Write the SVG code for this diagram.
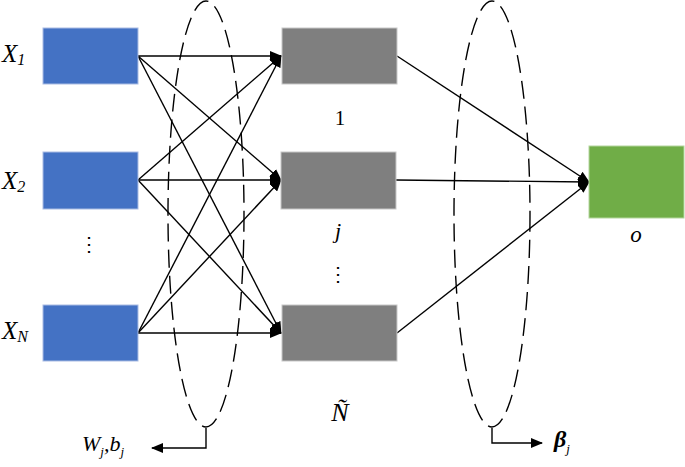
<svg xmlns="http://www.w3.org/2000/svg" width="685" height="467" viewBox="0 0 685 467">
<style>
.in{fill:#4472C4;stroke:#A9BCE3;stroke-width:1}
.hid{fill:#7F7F7F;stroke:#C8C8C8;stroke-width:1}
.out{fill:#70AD47;stroke:#B4D69E;stroke-width:1}
.c{stroke:#000;stroke-width:1.4;fill:none}
.dash{stroke:#000;stroke-width:1.4;fill:none;stroke-dasharray:18 8}
.t{font-family:'Liberation Serif','Times New Roman','DejaVu Serif',serif;fill:#000}
.it{font-style:italic}
</style>
<defs>
<marker id="ah" markerUnits="userSpaceOnUse" markerWidth="12" markerHeight="10" refX="11" refY="5" orient="auto">
<path d="M0,0 L12,5 L0,10 Z" fill="#000"/>
</marker>
</defs>
<g id="ellipses">
<ellipse class="dash" cx="206" cy="214" rx="38" ry="213"/>
<ellipse class="dash" cx="492" cy="214" rx="38" ry="213"/>
</g>
<g id="connectors">
<line class="c" x1="138" y1="56" x2="281" y2="56" marker-end="url(#ah)"/>
<line class="c" x1="138" y1="56" x2="281" y2="180" marker-end="url(#ah)"/>
<line class="c" x1="138" y1="56" x2="281" y2="333" marker-end="url(#ah)"/>
<line class="c" x1="138" y1="180" x2="281" y2="56" marker-end="url(#ah)"/>
<line class="c" x1="138" y1="180" x2="281" y2="180" marker-end="url(#ah)"/>
<line class="c" x1="138" y1="180" x2="281" y2="333" marker-end="url(#ah)"/>
<line class="c" x1="138" y1="333" x2="281" y2="56" marker-end="url(#ah)"/>
<line class="c" x1="138" y1="333" x2="281" y2="180" marker-end="url(#ah)"/>
<line class="c" x1="138" y1="333" x2="281" y2="333" marker-end="url(#ah)"/>
<line class="c" x1="397" y1="56" x2="589" y2="182" marker-end="url(#ah)"/>
<line class="c" x1="396" y1="180" x2="589" y2="182" marker-end="url(#ah)"/>
<line class="c" x1="397" y1="333" x2="589" y2="182" marker-end="url(#ah)"/>
<polyline class="c" points="206,428 206,448 152,448" marker-end="url(#ah)"/>
<polyline class="c" points="492,428 492,443 542,443" marker-end="url(#ah)"/>
</g>
<g id="x1"><rect class="in" x="43" y="28" width="95" height="56"/>
<text class="t it" x="2" y="62" font-size="25">X<tspan font-size="16" dy="3">1</tspan></text></g>
<g id="x2"><rect class="in" x="43" y="152" width="95" height="57"/>
<text class="t it" x="2" y="189" font-size="25">X<tspan font-size="16" dy="3">2</tspan></text></g>
<g id="xdots"><text class="t" x="89" y="251" font-size="20" text-anchor="middle">⋮</text></g>
<g id="xN"><rect class="in" x="43" y="305" width="95" height="56"/>
<text class="t it" x="2" y="339" font-size="25">X<tspan font-size="16" dy="3">N</tspan></text></g>
<g id="h1"><rect class="hid" x="282" y="28" width="115" height="56"/>
<text class="t" x="340" y="125" font-size="21" text-anchor="middle">1</text></g>
<g id="hj"><rect class="hid" x="281" y="152" width="115" height="57"/>
<text class="t it" x="338" y="238" font-size="22" text-anchor="middle">j</text></g>
<g id="hdots"><text class="t" x="338" y="281" font-size="20" text-anchor="middle">⋮</text></g>
<g id="hN"><rect class="hid" x="282" y="305" width="115" height="56"/>
<text class="t it" x="340" y="421" font-size="26" text-anchor="middle">Ñ</text></g>
<g id="o"><rect class="out" x="589" y="146" width="95" height="72"/>
<text class="t it" x="636" y="242" font-size="23" text-anchor="middle">o</text></g>
<g id="wb"><text class="t it" x="82" y="451" font-size="22">W<tspan font-size="13" dy="5">j</tspan><tspan dy="-5">,</tspan>b<tspan font-size="13" dy="5">j</tspan></text></g>
<g id="beta"><text class="t it" x="554" y="447" font-size="24" font-weight="bold">β<tspan font-size="13" font-weight="normal" dy="6">j</tspan></text></g>
</svg>
